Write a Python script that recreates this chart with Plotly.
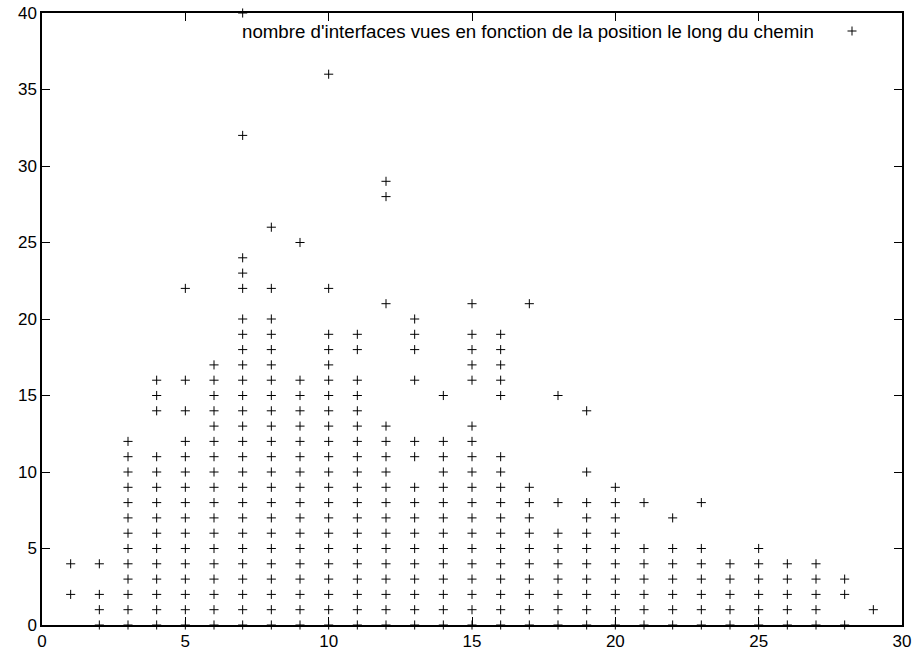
import plotly.graph_objects as go

# Position along the path (x) and the list of interface counts seen at each position (y)
positions = list(range(1, 30))
counts_by_position = [
    [2, 4],                                                            # 1
    [0, 1, 2, 4],                                                      # 2
    [0, 1, 2, 3, 4, 5, 6, 7, 8, 9, 10, 11, 12],                        # 3
    [0, 1, 2, 3, 4, 5, 6, 7, 8, 9, 10, 11, 14, 15, 16],                # 4
    [0, 1, 2, 3, 4, 5, 6, 7, 8, 9, 10, 11, 12, 14, 16, 22],            # 5
    [0, 1, 2, 3, 4, 5, 6, 7, 8, 9, 10, 11, 12, 13, 14, 15, 16, 17],    # 6
    [0, 1, 2, 3, 4, 5, 6, 7, 8, 9, 10, 11, 12, 13, 14, 15, 16, 17, 18, 19, 20,
     22, 23, 24, 32, 40],                                              # 7
    [0, 1, 2, 3, 4, 5, 6, 7, 8, 9, 10, 11, 12, 13, 14, 15, 16, 17, 18, 19, 20,
     22, 26],                                                          # 8
    [0, 1, 2, 3, 4, 5, 6, 7, 8, 9, 10, 11, 12, 13, 14, 15, 16, 25],    # 9
    [0, 1, 2, 3, 4, 5, 6, 7, 8, 9, 10, 11, 12, 13, 14, 15, 16, 17, 18, 19,
     22, 36],                                                          # 10
    [0, 1, 2, 3, 4, 5, 6, 7, 8, 9, 10, 11, 12, 13, 14, 15, 16, 18, 19],  # 11
    [0, 1, 2, 3, 4, 5, 6, 7, 8, 9, 10, 11, 12, 13, 21, 28, 29],        # 12
    [0, 1, 2, 3, 4, 5, 6, 7, 8, 9, 11, 12, 16, 18, 19, 20],            # 13
    [0, 1, 2, 3, 4, 5, 6, 7, 8, 9, 10, 11, 12, 15],                    # 14
    [0, 1, 2, 3, 4, 5, 6, 7, 8, 9, 10, 11, 12, 13, 16, 17, 18, 19, 21],  # 15
    [0, 1, 2, 3, 4, 5, 6, 7, 8, 9, 10, 11, 15, 16, 17, 18, 19],        # 16
    [0, 1, 2, 3, 4, 5, 6, 7, 8, 9, 21],                                # 17
    [0, 1, 2, 3, 4, 5, 6, 8, 15],                                      # 18
    [0, 1, 2, 3, 4, 5, 6, 7, 8, 10, 14],                               # 19
    [0, 1, 2, 3, 4, 5, 6, 7, 8, 9],                                    # 20
    [0, 1, 2, 3, 4, 5, 8],                                             # 21
    [0, 1, 2, 3, 4, 5, 7],                                             # 22
    [0, 1, 2, 3, 4, 5, 8],                                             # 23
    [0, 1, 2, 3, 4],                                                   # 24
    [0, 1, 2, 3, 4, 5],                                                # 25
    [0, 1, 2, 3, 4],                                                   # 26
    [0, 1, 2, 3, 4],                                                   # 27
    [0, 2, 3],                                                         # 28
    [1],                                                               # 29
]
x_ticks = [0, 5, 10, 15, 20, 25, 30]
y_ticks = [0, 5, 10, 15, 20, 25, 30, 35, 40]
series_label = "nombre d'interfaces vues en fonction de la position le long du chemin"

xs, ys = [], []
for p, counts in zip(positions, counts_by_position):
    for c in counts:
        xs.append(p)
        ys.append(c)

FONT = "Liberation Sans, Arial, Helvetica, sans-serif"
L, R, T, B = 42, 15, 13, 30
W, H = 917, 655
PW, PH = W - L - R, H - T - B

fig = go.Figure()
fig.add_trace(go.Scatter(
    x=xs, y=ys, mode="markers", name=series_label, cliponaxis=False,
    marker=dict(symbol="cross-thin", size=6.5, line=dict(width=1, color="#000000"), color="#000000"),
    showlegend=False,
))

axis_common = dict(
    showgrid=False, zeroline=False, showline=True, linecolor="#000000", linewidth=1.5,
    mirror="allticks", ticks="inside", ticklen=8, tickwidth=1.3, tickcolor="#000000",
    tickfont=dict(family=FONT, size=17, color="#000000"), automargin=False,
)
fig.update_xaxes(range=[0, 30], tickvals=x_ticks, ticktext=[str(v) for v in x_ticks], **axis_common)
fig.update_yaxes(range=[0, 40], tickvals=y_ticks, ticktext=[str(v) for v in y_ticks], **axis_common)

# gnuplot-style key: label right-aligned, sample symbol to its right
key_y = (H - B - 31) / PH
fig.add_annotation(xref="paper", yref="paper", x=(816 - L) / PW, y=key_y,
                   xanchor="right", yanchor="middle", text=series_label, showarrow=False,
                   font=dict(family=FONT, size=18.7, color="#000000"))
cx, cy, half = (852 - L) / PW, key_y, 4.5
fig.add_shape(type="line", xref="paper", yref="paper",
              x0=cx - half / PW, x1=cx + half / PW, y0=cy, y1=cy,
              line=dict(color="#000000", width=1))
fig.add_shape(type="line", xref="paper", yref="paper",
              x0=cx, x1=cx, y0=cy - half / PH, y1=cy + half / PH,
              line=dict(color="#000000", width=1))

fig.update_layout(
    width=W, height=H, autosize=False,
    margin=dict(l=L, r=R, t=T, b=B, pad=0),
    paper_bgcolor="white", plot_bgcolor="white",
    font=dict(family=FONT, size=17, color="#000000"),
)

fig.write_html("out.html")
